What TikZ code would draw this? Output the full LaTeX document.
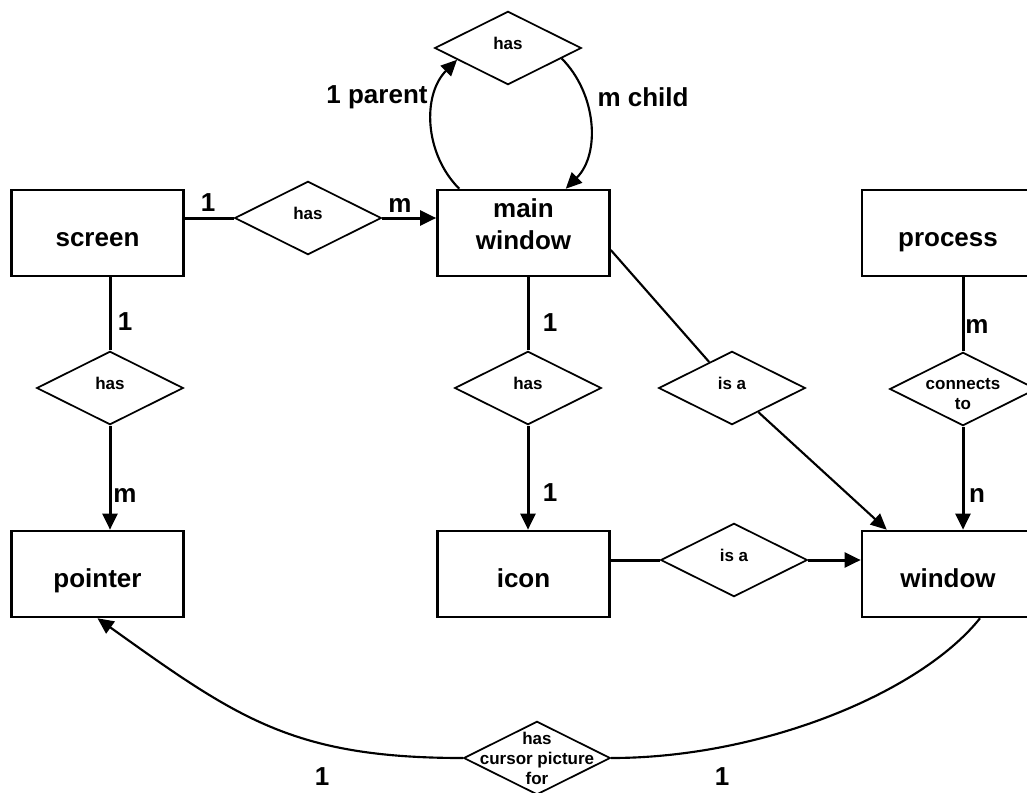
\documentclass[tikz,border=0pt]{standalone}
\usepackage{fontspec}
\setmainfont{Liberation Sans}
\usetikzlibrary{shapes.geometric,arrows.meta,calc}

\tikzset{
  entity/.style={draw, line width=1.9pt, minimum width=129pt, minimum height=64.5pt, inner sep=0pt,
    align=center, text height=20pt, text depth=0pt, font=\fontsize{19.5}{23.4}\selectfont\bfseries},
  rel/.style={draw, diamond, fill=white, line width=1.3pt, minimum width=110pt, minimum height=55pt, inner sep=0pt},
  reltext/.style={align=center, inner sep=0pt, font=\fontsize{12.75}{15}\selectfont\bfseries},
  card/.style={inner sep=0pt, font=\fontsize{19.5}{23.4}\selectfont\bfseries},
  link/.style={line width=2.25pt},
  thinlink/.style={line width=1.6pt},
  relarrow/.style={-{Triangle[length=12pt,width=11pt]}}
}

\begin{document}
\begin{tikzpicture}[x=0.75pt,y=-0.75pt]
\useasboundingbox (0,0) rectangle (1027,792);

%Entities
\node[entity] (screen) at (97.5,233) {screen};
\node[entity, text height=24pt] (mainwin) at (523.5,233) {main\\window};
\node[entity] (process) at (948,233) {process};
\node[entity] (pointer) at (97.5,574) {pointer};
\node[entity] (icon) at (523.5,574) {icon};
\node[entity] (window) at (948,574) {window};

%Relationships
\node[rel, label={[reltext,yshift=3.5pt]center:has}] (hasChild) at (508,48) {};
\node[rel, label={[reltext,yshift=3.5pt]center:has}] (hasMain) at (308,218) {};
\node[rel, label={[reltext,yshift=3.5pt]center:has}] (hasPointer) at (110,388) {};
\node[rel, label={[reltext,yshift=3.5pt]center:has}] (hasIcon) at (528,388) {};
\node[rel, label={[reltext,yshift=3.5pt]center:is a}] (isaMain) at (732,388) {};
\node[rel, label={[reltext,yshift=-3.5pt]center:{connects\\to}}] (connects) at (963,389) {};
\node[rel, label={[reltext,yshift=3.5pt]center:is a}] (isaIcon) at (734,560) {};
\node[rel, label={[reltext]center:{has\\cursor picture\\for}}] (hasCursor) at (537,758) {};

%Free ends
\coordinate (parentOut) at ($(mainwin.north west)+(23,0)$);
\coordinate (childIn) at ($(mainwin.north east)+(-45,0)$);
\coordinate (mainOut) at ($(mainwin.east)+(0,17)$);
\coordinate (winIn) at ($(window.north west)+(26,0)$);
\coordinate (winOut) at ($(window.south)+(32,0)$);

%Screen has main window
\draw[link] (screen.east |- hasMain) -- (hasMain.west);
\draw[link, relarrow] (hasMain.east) -- (hasMain.east -| mainwin.west);

%Screen has pointer
\draw[link] (hasPointer.north |- screen.south) -- (hasPointer.north);
\draw[link, relarrow] (hasPointer.south) -- (hasPointer.south |- pointer.north);

%Main window has icon
\draw[link] (hasIcon.north |- mainwin.south) -- (hasIcon.north);
\draw[link, relarrow] (hasIcon.south) -- (hasIcon.south |- icon.north);

%Process connects to window
\draw[link] (connects.north |- process.south) -- (connects.north);
\draw[link, relarrow] (connects.south) -- (connects.south |- window.north);

%Icon is a window
\draw[link] (icon.east |- isaIcon) -- (isaIcon.west);
\draw[link, relarrow] (isaIcon.east) -- (isaIcon.east -| window.west);

%Main window is a window
\draw[thinlink] (mainOut) -- (isaMain);
\draw[thinlink, relarrow] (isaMain) -- (winIn);

%Main window has main window
\draw[thinlink, relarrow] (parentOut) .. controls ($(parentOut)+(-35,-35)$) and ($(hasChild.193)+(-35,35)$) .. (hasChild.193);
\draw[thinlink, relarrow] (hasChild.-11) .. controls ($(hasChild.-11)+(35,35)$) and ($(childIn)+(35,-35)$) .. (childIn);

%Window has cursor picture for pointer
\draw[thinlink, relarrow] (hasCursor.west) .. controls ($(hasCursor.west)+(-170,0)$) and ($(pointer.south)+(140,100)$) .. (pointer.south);
\draw[thinlink] (winOut) .. controls ($(winOut)+(-60,75)$) and ($(hasCursor.east)+(150,0)$) .. (hasCursor.east);

%Cardinalities
\node[card] (cardScreenMain) at (208,203) {1};
\node[card] (cardMainScreen) at (400,205) {m};
\node[card] (cardScreenHas) at (125,322) {1};
\node[card] (cardPointerHas) at (125,495) {m};
\node[card] (cardMainHas) at (550,323) {1};
\node[card] (cardIconHas) at (550,493) {1};
\node[card] (cardProcess) at (977,326) {m};
\node[card] (cardWindow) at (977,495) {n};
\node[card] (cardParent) at (377,97) {1 parent};
\node[card] (cardChild) at (643,97) {m child};
\node[card] (cardPointer) at (322,777) {1};
\node[card] (cardWinCursor) at (722,777) {1};

\end{tikzpicture}
\end{document}
